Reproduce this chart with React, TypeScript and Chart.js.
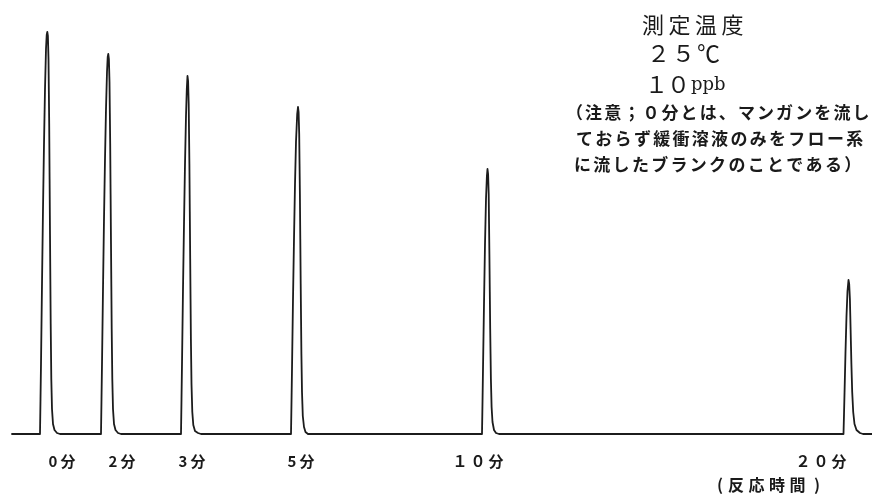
import { useEffect, useRef } from "react";
import { Chart, registerables } from "chart.js";

Chart.register(...registerables);

// Recorder trace: [position along chart, signal height]
const baseline: number[][] = [[12, 0]];
const peak0min: number[][] = [
  [40, 0], [41, 70], [42, 150], [43, 225], [44, 290], [45, 345], [46, 385], [46.7, 399],
  [47.3, 402], [47.9, 398], [48.5, 375], [49.2, 310], [50, 200], [50.7, 110], [51.3, 55],
  [52, 25], [53, 10], [54.5, 4], [57, 1], [60, 0],
];
const peak2min: number[][] = [
  [101, 0], [102, 70], [103, 145], [104, 215], [105, 275], [106, 325], [107, 362], [107.7, 377],
  [108.3, 380], [108.9, 375], [109.5, 352], [110.2, 290], [111, 190], [111.7, 105], [112.3, 55],
  [113, 25], [114, 10], [115.5, 4], [118, 1], [121, 0],
];
const peak3min: number[][] = [
  [181, 0], [182, 70], [183, 145], [184, 210], [185, 270], [186, 318], [186.8, 345],
  [187.5, 358], [188.1, 353], [188.7, 330], [189.4, 270], [190.2, 175], [190.9, 95], [191.5, 50],
  [192.3, 22], [193.3, 9], [195, 3], [198, 1], [201, 0],
];
const peak5min: number[][] = [
  [291, 0], [292, 65], [293, 135], [294, 195], [295, 250], [296, 292], [297.2, 320],
  [298, 327], [298.6, 322], [299.2, 300], [299.9, 240], [300.7, 150], [301.4, 80], [302, 42],
  [302.8, 18], [304, 7], [305.5, 2], [308, 0],
];
const peak10min: number[][] = [
  [482, 0], [483, 65], [484, 130], [485, 190], [486, 235], [486.9, 258],
  [487.5, 265], [488.1, 260], [488.7, 240], [489.4, 180], [490.2, 105], [490.9, 55], [491.6, 27],
  [492.5, 12], [494, 4], [496, 1], [499, 0],
];
const peak20min: number[][] = [
  [843.5, 0], [844.5, 40], [845.5, 82], [846.5, 118], [847.5, 143],
  [848.5, 154], [849.2, 150], [849.9, 135], [850.6, 105], [851.4, 70], [852.2, 42], [853.2, 22],
  [854.5, 10], [856.5, 4], [860, 1], [863, 0], [872, 0],
];

const timeLabels = ["0分", "2分", "3分", "5分", "１０分", "２０分"];
const timeLabelX = [62, 122, 192, 301, 478, 821];
const axisTitleChars = ["(", "反", "応", "時", "間", ")"];
const headerLines = ["測定温度", "２５℃", "１０"];
const unitText = "ppb";
const noteLines = [
  "（注意；０分とは、マンガンを流し",
  "ておらず緩衝溶液のみをフロー系",
  "に流したブランクのことである）",
];

const trace = [
  ...baseline,
  ...peak0min,
  ...peak2min,
  ...peak3min,
  ...peak5min,
  ...peak10min,
  ...peak20min,
];

const JP = '"Noto Sans CJK JP", "Noto Sans", sans-serif';

function drawPitched(ctx: CanvasRenderingContext2D, text: string, x: number, y: number, pitch: number) {
  const chars = Array.from(text);
  chars.forEach((c, i) => ctx.fillText(c, x + i * pitch, y));
}

const textPlugin = {
  id: "textPlugin",
  afterDraw(chart: any) {
    const ctx: CanvasRenderingContext2D = chart.ctx;
    const xs = chart.scales.x;
    const ys = chart.scales.y;
    ctx.save();
    ctx.fillStyle = "#1a1a1a";
    ctx.textBaseline = "middle";

    // time labels under the peaks
    ctx.font = `bold 15px ${JP}`;
    ctx.textAlign = "center";
    (ctx as any).letterSpacing = "3px";
    timeLabels.forEach((t, i) => {
      ctx.fillText(t, xs.getPixelForValue(timeLabelX[i]) + 1.5, ys.getPixelForValue(-27));
    });

    // axis title (反応時間)
    (ctx as any).letterSpacing = "0px";
    ctx.textAlign = "left";
    ctx.font = `bold 16px ${JP}`;
    ctx.fillText(axisTitleChars[0], 717, 485);
    [1, 2, 3, 4].forEach((k) => ctx.fillText(axisTitleChars[k], 728 + (k - 1) * 20.5, 485));
    ctx.fillText(axisTitleChars[5], 814, 485);

    // header
    ctx.font = `22px ${JP}`;
    drawPitched(ctx, headerLines[0], 642, 25, 26.5);
    ctx.font = `23px ${JP}`;
    drawPitched(ctx, headerLines[1], 647, 53, 25);
    drawPitched(ctx, headerLines[2], 645, 84, 22);
    ctx.font = `18px "DejaVu Serif", serif`;
    ctx.textBaseline = "alphabetic";
    ctx.fillText(unitText, 691, 90);

    // note
    ctx.textBaseline = "middle";
    ctx.font = `bold 17px ${JP}`;
    drawPitched(ctx, noteLines[0], 566, 113, 19.1);
    drawPitched(ctx, noteLines[1], 576, 139, 19.3);
    drawPitched(ctx, noteLines[2], 574, 165, 19.3);
    ctx.restore();
  },
};

export default function App() {
  const ref = useRef<HTMLCanvasElement>(null);
  useEffect(() => {
    document.body.style.margin = "0";
    const chart = new Chart(ref.current!, {
      type: "line",
      data: {
        datasets: [
          {
            data: trace.map(([x, y]) => ({ x, y })),
            borderColor: "#1c1c1c",
            borderWidth: 1.8,
            borderJoinStyle: "round",
            borderCapStyle: "round",
            pointRadius: 0,
            tension: 0.001,
            fill: false,
          },
        ],
      },
      options: {
        responsive: false,
        animation: false,
        layout: { padding: 0 },
        plugins: { legend: { display: false }, tooltip: { enabled: false } },
        scales: {
          x: { type: "linear", min: 0, max: 872, display: false },
          y: { min: -60, max: 434, display: false },
        },
      },
      plugins: [textPlugin],
    } as any);
    return () => chart.destroy();
  }, []);
  return <canvas ref={ref} width={872} height={494} style={{ display: "block", background: "#ffffff" }} />;
}
